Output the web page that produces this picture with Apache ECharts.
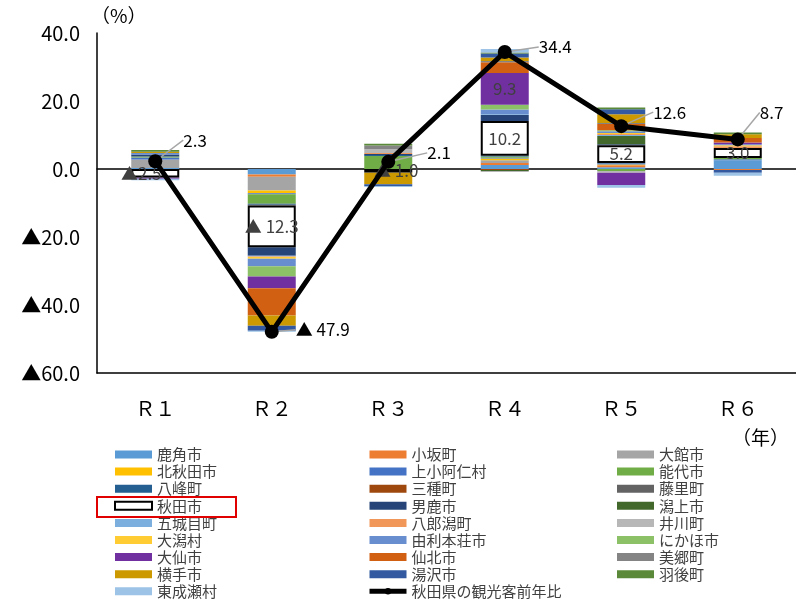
<!DOCTYPE html>
<html>
<head>
<meta charset="utf-8">
<script src="https://cdn.jsdelivr.net/npm/echarts@6/dist/echarts.min.js"></script>
<style>html,body{margin:0;padding:0;background:#fff;}#c{width:796px;height:601px;}</style>
</head>
<body>
<div id="c"></div>
<script>
// ---- data ----
const categories = ['Ｒ１', 'Ｒ２', 'Ｒ３', 'Ｒ４', 'Ｒ５', 'Ｒ６'];
const yTicks = [-60, -40, -20, 0, 20, 40];
const municipalities = ['鹿角市','小坂町','大館市','北秋田市','上小阿仁村','能代市','八峰町','三種町','藤里町','秋田市','男鹿市','潟上市','五城目町','八郎潟町','井川町','大潟村','由利本荘市','にかほ市','大仙市','仙北市','美郷町','横手市','湯沢市','羽後町','東成瀬村'];
const kazuno      = [0.3, -1.6, 0,    1.2,  0.5,  2.6];
const kosaka      = [0,   -0.7, 0,    0.6,  0.6, -0.3];
const odate       = [2.5, -4.0, 0,    0.8,  0,    0];
const kitaakita   = [0,   -0.8, 0,    0.5,  0.2,  0];
const kamikoani   = [0.6, -0.3, 0,    0.2,  0.3,  0.3];
const noshiro     = [0.3, -2.8, 3.8,  0.4, -0.6,  0.3];
const happo       = [0,   -0.3, 0.3,  0.2,  0.2,  0];
const mitane      = [0,   0,    0,   -0.3,  0,    0];
const fujisato    = [0,   -0.2, 0,    0,    0,    0];
const akita       = [-2.5, -12.3, -1.0, 10.2, 5.2, 3.0];
const oga         = [0.6, -2.5, 0.3,  1.8,  0.3,  0];
const katagami    = [0,   0,    0,   -0.3,  2.4,  0];
const gojome      = [0,   -0.2, 0,    0.2,  0.3,  0];
const hachirogata = [0,   -0.2, 0.3,  0,    0.3,  0.5];
const ikawa       = [0,   0,    1.1, -0.3, -0.5,  0];
const ogata       = [0,   -0.5, 0,    0,    0.3,  0.3];
const yurihonjo   = [0.4, -2.2, 0,    1.4,  0.5,  0.3];
const nikaho      = [0,   -3.0, 0,    1.4,  0.3,  0];
const daisen      = [-0.4, -3.5, 0,   9.3, -3.6,  0.5];
const semboku     = [0,   -8.0, 0,    3.2,  1.8,  1.3];
const misato      = [0,   0,    1.1,  0.4,  0.3,  0];
const yokote      = [0.4, -3.0, -3.5, 1.0,  2.6,  1.1];
const yuzawa      = [0,   -1.5, -0.5, 1.2,  1.5, -0.8];
const ugo         = [0.5, 0,    0.5,  0.3,  0.5,  0.5];
const higashinaruse = [-0.4, -0.3, -0.3, 1.0, -0.8, -0.9];
const prefTotalName = '秋田県の観光客前年比';
const prefTotal = [2.3, -47.9, 2.1, 34.4, 12.6, 8.7];

const muniValues = [kazuno,kosaka,odate,kitaakita,kamikoani,noshiro,happo,mitane,fujisato,akita,oga,katagami,gojome,hachirogata,ikawa,ogata,yurihonjo,nikaho,daisen,semboku,misato,yokote,yuzawa,ugo,higashinaruse];

// ---- styles ----
const seriesColors = ['#5B9BD5','#ED7D31','#A5A5A5','#FFC000','#4472C4','#70AD47','#255E91','#9E480E','#636363','#FFFFFF','#264478','#43682B','#7CAFDD','#F1975A','#B7B7B7','#FFCD33','#698ED0','#8CC168','#7030A0','#D26012','#848484','#CC9A00','#335AA1','#5A8A39','#9DC3E6'];
const FONT = '"Noto Sans CJK JP", "Noto Sans", sans-serif';
const fmt = v => v < 0 ? '▲' + Math.abs(v).toFixed(1) : v.toFixed(1);
const fmtSp = v => v < 0 ? '▲ ' + Math.abs(v).toFixed(1) : v.toFixed(1);

const akitaLabelShift = [-14, 0, 8, 0, 0, 0];
const series = municipalities.map((name, i) => {
  const s = {
    name, type: 'bar', stack: 'total', barWidth: 48,
    data: muniValues[i],
    itemStyle: { color: seriesColors[i] },
    emphasis: { disabled: true }
  };
  if (name === '秋田市') {
    s.itemStyle = { color: '#FFFFFF', borderColor: '#000000', borderWidth: 2 };
    s.label = { show: true, position: 'inside', color: '#404040', fontSize: 17, fontFamily: FONT,
      formatter: p => p.dataIndex === 0 ? fmt(p.value) : fmtSp(p.value) };
    s.labelLayout = p => ({ dx: akitaLabelShift[p.dataIndex] });
    s.z = 3;
  }
  if (name === '大仙市') {
    s.label = { show: true, position: 'inside', color: '#404040', fontSize: 17, fontFamily: FONT,
      formatter: p => p.dataIndex === 3 ? fmt(p.value) : '' };
  }
  return s;
});

const lineOffsets = [[16,-21],[0,0],[27,-9],[22,-5],[20,-14],[10,-27]];
series.push({
  name: prefTotalName, type: 'line', data: prefTotal, z: 10,
  symbol: 'circle', symbolSize: 14,
  lineStyle: { color: '#000', width: 5 },
  itemStyle: { color: '#000' },
  label: { show: true, position: 'right', color: '#000', fontSize: 17, fontFamily: FONT,
    formatter: p => fmtSp(p.value) },
  labelLine: { show: true, lineStyle: { color: '#A6A6A6', width: 1.5 } },
  labelLayout: p => {
    if (p.dataIndex === 1) return { dx: 12, dy: -2 };
    return { dx: lineOffsets[p.dataIndex][0], dy: lineOffsets[p.dataIndex][1] };
  },
  emphasis: { disabled: true }
});

const col1 = [], col2 = [], col3 = [];
const allNames = municipalities.concat([prefTotalName]);
allNames.forEach((n, i) => { [col1, col2, col3][i % 3].push(n); });
const legendBase = {
  orient: 'vertical', top: 446, height: 160, padding: 0,
  itemWidth: 37, itemHeight: 8, itemGap: 0.1,
  textStyle: { fontSize: 15, color: '#404040', fontFamily: FONT, lineHeight: 17 },
  selectedMode: false
};
const mkLegend = (data, left) => Object.assign({}, legendBase, {
  left, data: data.map(n => n === prefTotalName
    ? { name: n, lineStyle: { width: 5 }, itemStyle: { color: '#000' } }
    : { name: n, icon: 'rect' })
});

const chart = echarts.init(document.getElementById('c'), null, { renderer: 'canvas' });
chart.setOption({
  animation: false,
  textStyle: { fontFamily: FONT },
  grid: { left: 97, top: 33, width: 708, height: 340, show: false },
  xAxis: [
    { type: 'category', data: categories, position: 'bottom',
      axisLine: { onZero: false, lineStyle: { color: '#000', width: 1.5 } },
      axisTick: { show: false },
      axisLabel: { fontSize: 20, color: '#000', margin: 25, fontFamily: FONT } },
    { type: 'category', data: categories, position: 'bottom',
      axisLine: { onZero: true, lineStyle: { color: '#000', width: 1.5 } },
      axisTick: { show: false }, axisLabel: { show: false } }
  ],
  yAxis: {
    type: 'value', min: -60, max: 40, interval: 20,
    axisLine: { show: true, lineStyle: { color: '#000', width: 1.5 } },
    axisTick: { show: false },
    splitLine: { show: false },
    axisLabel: { fontSize: 20, color: '#000', margin: 17, fontFamily: FONT,
      formatter: v => fmt(v) }
  },
  legend: [mkLegend(col1, 114), mkLegend(col2, 367), mkLegend(col3, 617)],
  graphic: [
    { type: 'text', left: 91, top: 6, style: { text: '（%）', fill: '#000', font: '19px ' + FONT } },
    { type: 'text', left: 732, top: 428, style: { text: '（年）', fill: '#000', font: '19px ' + FONT } },
    { type: 'rect', shape: { x: 97, y: 497, width: 139, height: 20 },
      style: { fill: 'none', stroke: '#E00000', lineWidth: 2 }, z: 100 }
  ],
  series
});
</script>
</body>
</html>
